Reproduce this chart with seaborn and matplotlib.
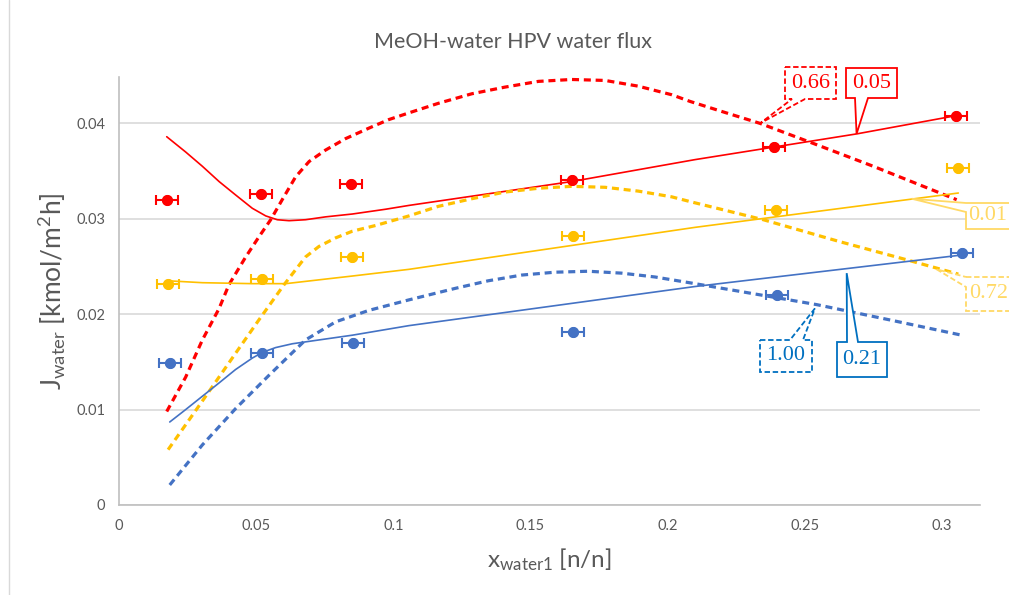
import numpy as np
import pandas as pd
import matplotlib
matplotlib.use("Agg")
import matplotlib.pyplot as plt
from matplotlib.patches import Polygon
from matplotlib.lines import Line2D
import seaborn as sns

# ---------------- data ----------------
title = "MeOH-water HPV water flux"
x_ticks = [0, 0.05, 0.1, 0.15, 0.2, 0.25, 0.3]
x_tick_labels = ["0", "0.05", "0.1", "0.15", "0.2", "0.25", "0.3"]
y_ticks = [0, 0.01, 0.02, 0.03, 0.04]
y_tick_labels = ["0", "0.01", "0.02", "0.03", "0.04"]

# measured points (x_water1, J_water)
red_x = [0.0174, 0.0517, 0.0847, 0.165, 0.2388, 0.305]
red_y = [0.0320, 0.0326, 0.0336, 0.0341, 0.0375, 0.0408]
yel_x = [0.0179, 0.0523, 0.085, 0.1654, 0.2394, 0.3059]
yel_y = [0.0232, 0.0237, 0.0260, 0.0282, 0.0309, 0.0353]
blu_x = [0.0185, 0.0523, 0.0854, 0.1656, 0.240, 0.3072]
blu_y = [0.01485, 0.0159, 0.0170, 0.0181, 0.0220, 0.02645]
x_err = 0.004

# model curves
red_solid_x = [0.0174, 0.0243, 0.0304, 0.0365, 0.0425, 0.0486, 0.0535, 0.0577, 0.062, 0.068,
               0.0753, 0.0851, 0.0972, 0.1057, 0.165, 0.21, 0.269, 0.305]
red_solid_y = [0.0386, 0.0370, 0.0355, 0.0339, 0.0325, 0.0311, 0.0303, 0.0299, 0.0298, 0.0299,
               0.0302, 0.0305, 0.0310, 0.0314, 0.0339, 0.0362, 0.0389, 0.0408]
red_dash_x = [0.0174, 0.0243, 0.0304, 0.0365, 0.0401, 0.0462, 0.0510, 0.0553, 0.0595, 0.0644,
              0.0693, 0.0753, 0.0826, 0.0911, 0.0984, 0.1057, 0.1164, 0.1286, 0.1407, 0.1529,
              0.165, 0.1772, 0.1893, 0.2015, 0.2082, 0.2203, 0.2337, 0.2531, 0.275, 0.3054]
red_dash_y = [0.0098, 0.0134, 0.0173, 0.0206, 0.0231, 0.0260, 0.0281, 0.0299, 0.0320, 0.0344,
              0.0360, 0.0372, 0.0384, 0.0395, 0.0404, 0.0411, 0.0421, 0.0431, 0.0438, 0.0444,
              0.0446, 0.0445, 0.0439, 0.0430, 0.0423, 0.0412, 0.0400, 0.0379, 0.0355, 0.0320]
yel_solid_x = [0.0179, 0.0304, 0.0486, 0.0608, 0.0729, 0.0851, 0.1057, 0.165, 0.21, 0.306]
yel_solid_y = [0.0235, 0.0233, 0.0232, 0.0232, 0.0236, 0.0240, 0.0247, 0.0272, 0.0291, 0.0327]
yel_dash_x = [0.0179, 0.0304, 0.0425, 0.0510, 0.0602, 0.068, 0.0729, 0.079, 0.0851, 0.0936,
              0.1057, 0.1164, 0.1286, 0.1407, 0.1529, 0.165, 0.1772, 0.1893, 0.2015, 0.2082,
              0.2349, 0.2628, 0.2872, 0.306]
yel_dash_y = [0.0058, 0.0109, 0.0159, 0.0194, 0.0231, 0.0260, 0.0271, 0.0280, 0.0287, 0.0293,
              0.0303, 0.0313, 0.0321, 0.0328, 0.0332, 0.0334, 0.0333, 0.0329, 0.0323, 0.0318,
              0.0299, 0.0276, 0.0257, 0.0242]
blu_solid_x = [0.0185, 0.0243, 0.0304, 0.0365, 0.0425, 0.0486, 0.0523, 0.0571, 0.0632, 0.0729,
               0.0851, 0.1057, 0.21, 0.3072]
blu_solid_y = [0.0087, 0.0100, 0.0114, 0.0128, 0.0142, 0.0154, 0.0160, 0.0165, 0.0169, 0.0173,
               0.0178, 0.0188, 0.0229, 0.0262]
blu_dash_x = [0.0185, 0.0304, 0.0425, 0.0547, 0.068, 0.079, 0.0911, 0.1057, 0.1225, 0.1346,
              0.1468, 0.1589, 0.1711, 0.1833, 0.1954, 0.21, 0.2544, 0.281, 0.3072]
blu_dash_y = [0.0021, 0.0063, 0.0101, 0.0136, 0.0173, 0.0192, 0.0204, 0.0215, 0.0227, 0.0235,
              0.0241, 0.0244, 0.0245, 0.0243, 0.0239, 0.0232, 0.0210, 0.0194, 0.0178]

labels = ["0.66", "0.05", "0.01", "0.72", "1.00", "0.21"]

RED = "#FF0000"
YEL = "#FFC000"
BLU = "#4472C4"
YEL_T = "#FFD966"
BLU_T = "#0070C0"
GRAY_T = "#595959"

# ---------------- figure ----------------
sns.set_theme(style="white")
plt.rcParams["font.family"] = ["Lato", "DejaVu Sans"]
plt.rcParams["mathtext.fontset"] = "custom"
plt.rcParams["mathtext.rm"] = "Lato"
plt.rcParams["mathtext.it"] = "Lato"

W, H = 1009, 595
fig = plt.figure(figsize=(W / 100, H / 100), dpi=100)
fig.patch.set_facecolor("white")
ax = fig.add_axes([119 / W, 1 - 505 / H, (980 - 119) / W, (505 - 77) / H])

ax.set_xlim(0, 0.3139)
ax.set_ylim(0, 0.04486)

def curve(xs, ys, color, dashed):
    df = pd.DataFrame({"x": xs, "y": ys})
    if dashed:
        sns.lineplot(data=df, x="x", y="y", ax=ax, color=color, lw=2.3, sort=False,
                     estimator=None, linestyle=(0, (2.2, 1.5)), zorder=3)
    else:
        sns.lineplot(data=df, x="x", y="y", ax=ax, color=color, lw=1.2, sort=False,
                     estimator=None, zorder=3)

curve(red_solid_x, red_solid_y, RED, False)
curve(red_dash_x, red_dash_y, RED, True)
curve(yel_solid_x, yel_solid_y, YEL, False)
curve(yel_dash_x, yel_dash_y, YEL, True)
curve(blu_solid_x, blu_solid_y, BLU, False)
curve(blu_dash_x, blu_dash_y, BLU, True)

for xs, ys, c in [(red_x, red_y, RED), (yel_x, yel_y, YEL), (blu_x, blu_y, BLU)]:
    ax.errorbar(xs, ys, xerr=x_err, fmt="o", color=c, ms=7, elinewidth=1.5,
                capsize=3.5, capthick=1.5, zorder=5)
    sns.scatterplot(x=xs, y=ys, ax=ax, color=c, s=50, edgecolor=c, zorder=6)

# axes styling
ax.set_xticks(x_ticks)
ax.set_xticklabels(x_tick_labels)
ax.set_yticks(y_ticks)
ax.set_yticklabels(y_tick_labels)
ax.tick_params(axis="both", length=0, labelsize=10.5, labelcolor=GRAY_T, pad=10)
ax.yaxis.grid(True, color="#D9D9D9", lw=1.2)
ax.xaxis.grid(False)
ax.set_axisbelow(True)
for s in ["top", "right"]:
    ax.spines[s].set_visible(False)
for s in ["left", "bottom"]:
    ax.spines[s].set_color("#BFBFBF")
    ax.spines[s].set_linewidth(1.2)

ax.set_xlabel(r"x$\mathregular{_{water1}}$ [n/n]", fontsize=17.5, color=GRAY_T, labelpad=10)
ax.set_ylabel(r"J$\mathregular{_{water}}$ [kmol/m$\mathregular{^2}$h]", fontsize=19, color=GRAY_T, labelpad=6)
fig.text(513 / W, 1 - 42 / H, title, ha="center", va="center", fontsize=15.5, color=GRAY_T)

# chart border
fig.add_artist(Line2D([8.5 / W, 8.5 / W], [0, 1], transform=fig.transFigure, color="#D9D9D9", lw=1))

# ---------------- callouts ----------------
fig.canvas.draw()
def px(x, y):
    return (x / W, 1 - y / H)

def tip_fig(xd, yd):
    d = ax.transData.transform((xd, yd))
    return fig.transFigure.inverted().transform(d)

def callout(text, box, side, base, tip, color, tcolor, dashed, tx=None):
    x0, y0, x1, y1 = box
    t = tuple(tip_fig(*tip))
    b1, b2 = base
    if side == "bottom":
        pts = [px(x0, y0), px(x1, y0), px(x1, y1), px(b2, y1), t, px(b1, y1), px(x0, y1)]
    elif side == "top":
        pts = [px(x0, y0), px(b1, y0), t, px(b2, y0), px(x1, y0), px(x1, y1), px(x0, y1)]
    else:  # left
        pts = [px(x0, y0), px(x1, y0), px(x1, y1), px(x0, y1), px(x0, b2), t, px(x0, b1)]
    poly = Polygon(pts, closed=True, transform=fig.transFigure, facecolor="white",
                   edgecolor=color, lw=1.3, linestyle=(0, (3, 1.5)) if dashed else "-",
                   zorder=10, clip_on=False)
    fig.add_artist(poly)
    cx = tx if tx is not None else (x0 + x1) / 2
    fig.text(cx / W, 1 - (y0 + y1) / 2 / H, text, ha="center", va="center",
             fontsize=16, color=tcolor, family="Liberation Serif", zorder=11)

callout(labels[0], (785, 67, 836, 99), "bottom", (792, 805), (0.2337, 0.0400), RED, RED, True)
callout(labels[1], (846, 68, 897, 98), "bottom", (855, 868), (0.2689, 0.0389), RED, RED, False)
callout(labels[2], (966, 203, 1020, 229), "left", (203, 212), (0.289, 0.0321), YEL_T, YEL_T, False, tx=988)
callout(labels[3], (966, 277, 1020, 311), "left", (277, 287), (0.2981, 0.0247), YEL_T, YEL_T, True, tx=989)
callout(labels[4], (760, 340, 812, 372), "top", (790, 803), (0.2537, 0.0206), BLU_T, BLU_T, True)
callout(labels[5], (837, 342, 887, 377), "top", (847, 858), (0.2653, 0.0243), BLU_T, BLU_T, False)

fig.savefig("out.png", dpi=100, facecolor="white")
